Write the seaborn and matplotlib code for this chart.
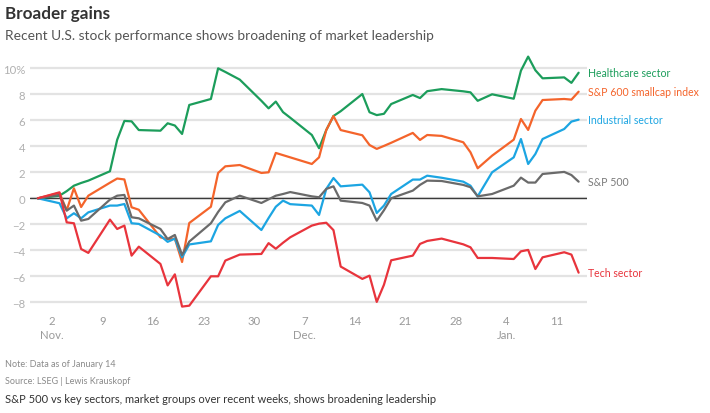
import matplotlib
matplotlib.use("Agg")
import matplotlib.pyplot as plt
import matplotlib.transforms as mtransforms
import seaborn as sns
import pandas as pd

# ---------------- data ----------------
dates = [
    "2025-10-31",
    "2025-11-03", "2025-11-04", "2025-11-05", "2025-11-06", "2025-11-07",
    "2025-11-10", "2025-11-11", "2025-11-12", "2025-11-13", "2025-11-14",
    "2025-11-17", "2025-11-18", "2025-11-19", "2025-11-20", "2025-11-21",
    "2025-11-24", "2025-11-25", "2025-11-26", "2025-11-28",
    "2025-12-01", "2025-12-02", "2025-12-03", "2025-12-04", "2025-12-05",
    "2025-12-08", "2025-12-09", "2025-12-10", "2025-12-11", "2025-12-12",
    "2025-12-15", "2025-12-16", "2025-12-17", "2025-12-18", "2025-12-19",
    "2025-12-22", "2025-12-23", "2025-12-24", "2025-12-26",
    "2025-12-29", "2025-12-30", "2025-12-31",
    "2026-01-02",
    "2026-01-05", "2026-01-06", "2026-01-07", "2026-01-08", "2026-01-09",
    "2026-01-12", "2026-01-13", "2026-01-14",
]

healthcare = [0, 0.2, 0.55, 0.97, 1.18, 1.36, 2.08, 4.5, 5.95, 5.92, 5.25,
              5.2, 5.77, 5.6, 4.95, 7.18, 7.64, 10.0, 9.72, 9.13,
              7.5, 6.92, 7.44, 6.63, 6.2, 4.87, 3.85, 5.25, 6.33, 6.7,
              8.02, 6.62, 6.4, 6.5, 7.25, 7.95, 7.71, 8.24, 8.4,
              8.23, 8.15, 7.5, 8.0, 7.66, 9.82, 10.9, 9.85, 9.23,
              9.3, 8.88, 9.66]

smallcap = [0, 0.41, -0.92, 0.77, -0.67, 0.2, 1.2, 1.52, 1.45, -0.69, -0.88,
            -3.0, -3.15, -3.1, -4.9, -1.9, -0.65, 1.95, 2.46, 2.56,
            1.95, 2.0, 3.49, 3.32, 3.15, 2.64, 3.15, 5.25, 6.33, 5.25,
            4.85, 4.1, 3.8, 4.03, 4.27, 5.03, 4.49, 4.87, 4.8,
            4.31, 3.54, 2.31, 3.28, 4.51, 6.1, 5.26, 6.74, 7.56,
            7.64, 7.59, 8.2]

industrial = [0, -0.38, -1.54, -1.15, -1.54, -1.08, -0.56, -0.56, -0.44, -1.92, -1.97,
              -2.87, -3.35, -3.1, -4.54, -3.55, -3.31, -2.05, -1.54, -0.97,
              -2.44, -1.52, -0.65, -0.18, -0.45, -0.56, -1.28, 0.72, 1.56, 0.92,
              1.05, 0.46, -1.13, -0.56, 0.33, 1.44, 1.44, 1.74, 1.58,
              1.28, 0.97, 0.15, 2.0, 3.15, 4.56, 2.64, 3.41, 4.56,
              5.33, 5.9, 6.05]

sp500 = [0, 0.26, -0.95, -0.56, -1.72, -1.59, -0.1, 0.2, 0.26, -1.46, -1.54,
         -2.36, -3.13, -2.82, -4.36, -3.33, -1.92, -1.05, -0.31, 0.2,
         -0.36, -0.08, 0.2, 0.33, 0.48, 0.15, 0.08, 0.72, 0.92, -0.18,
         -0.36, -0.56, -1.72, -0.92, 0.0, 0.59, 1.03, 1.36, 1.33,
         1.03, 0.85, 0.15, 0.33, 0.97, 1.59, 1.21, 1.21, 1.87,
         2.03, 1.79, 1.28]

tech = [0, 0.46, -1.85, -1.92, -3.9, -4.2, -1.64, -2.36, -2.1, -4.41, -3.72,
        -5.05, -6.7, -5.85, -8.33, -8.26, -6.0, -6.0, -4.79, -4.33,
        -4.28, -3.45, -3.88, -3.42, -3.0, -2.1, -1.95, -1.88, -2.45, -5.25,
        -6.2, -5.95, -7.97, -6.65, -4.77, -4.41, -3.51, -3.28, -3.1,
        -3.54, -3.77, -4.59, -4.59, -4.67, -4.08, -3.97, -5.44, -4.54,
        -4.15, -4.33, -5.72]

series_names = ["Healthcare sector", "S&P 600 smallcap index",
                "Industrial sector", "S&P 500", "Tech sector"]
series_values = [healthcare, smallcap, industrial, sp500, tech]
series_colors = ["#1c9d5b", "#f4642b", "#1ca5e2", "#6a6a6a", "#e8343c"]
label_colors = ["#1c9d5b", "#f4642b", "#1ca5e2", "#7a7a7a", "#e8343c"]

x_tick_dates = ["2025-11-02", "2025-11-09", "2025-11-16", "2025-11-23",
                "2025-11-30", "2025-12-07", "2025-12-14", "2025-12-21",
                "2025-12-28", "2026-01-04", "2026-01-11"]
x_tick_labels = ["2\nNov.", "9", "16", "23", "30", "7\nDec.", "14", "21",
                 "28", "4\nJan.", "11"]
y_ticks = [-8, -6, -4, -2, 0, 2, 4, 6, 8, 10]
y_tick_labels = ["\u22128", "\u22126", "\u22124", "\u22122", "0", "2", "4",
                 "6", "8", "10%"]

# ---------------- frame ----------------
frames = []
for name, vals in zip(series_names, series_values):
    frames.append(pd.DataFrame({"date": pd.to_datetime(dates),
                                "value": vals, "series": name}))
long = pd.concat(frames, ignore_index=True)

sns.set_theme(style="white")
plt.rcParams["font.family"] = ["Lato", "DejaVu Sans"]

W, H = 710, 414
fig = plt.figure(figsize=(W / 100, H / 100), dpi=100)

# axes placement (pixels): left 30, right 587, y from 53.7 to 309.8
ax = fig.add_axes([30 / W, 1 - 309.8 / H, 556.7 / W, 256.1 / H])

sns.lineplot(data=long, x="date", y="value", hue="series",
             hue_order=series_names,
             palette=dict(zip(series_names, series_colors)),
             linewidth=1.6, legend=False, ax=ax, zorder=3)

origin = pd.Timestamp("2025-11-02")
ax.set_xlim(origin - pd.Timedelta(days=3.09), origin + pd.Timedelta(days=74.12))
ax.set_ylim(-8.5, 11.2)

ax.set_yticks(y_ticks)
ax.set_yticklabels(y_tick_labels)
ax.set_xticks(pd.to_datetime(x_tick_dates))
ax.set_xticklabels(x_tick_labels, linespacing=1.35)

ax.yaxis.grid(True, color="#e3e3e3", linewidth=1.6)
ax.xaxis.grid(False)
ax.set_axisbelow(True)
ax.axhline(0, color="#3a3a3a", linewidth=1.0, zorder=2)

for s in ax.spines.values():
    s.set_visible(False)
ax.tick_params(axis="both", length=0)
ax.tick_params(axis="y", pad=3.5, labelsize=8.2, labelcolor="#b0b0b0")
ax.tick_params(axis="x", pad=4.5, labelsize=8.2, labelcolor="#9a9a9a")
ax.set_xlabel("")
ax.set_ylabel("")

# end labels
trans = mtransforms.blended_transform_factory(ax.transAxes, ax.transData)
for name, vals, col in zip(series_names, series_values, label_colors):
    ax.text(1.002, vals[-1], name, transform=trans, color=col,
            fontsize=7.6, va="center", ha="left", clip_on=False)

# titles and notes
fig.text(5 / W, 1 - 14 / H, "Broader gains", fontsize=12.3, fontweight="bold",
         color="#333333", va="center", ha="left")
fig.text(5 / W, 1 - 36 / H,
         "Recent U.S. stock performance shows broadening of market leadership",
         fontsize=9.9, color="#555555", va="center", ha="left")
fig.text(5 / W, 1 - 365 / H, "Note: Data as of January 14", fontsize=6.5,
         color="#8a8a8a", va="center", ha="left")
fig.text(5 / W, 1 - 382 / H, "Source: LSEG | Lewis Krauskopf", fontsize=6.5,
         color="#8a8a8a", va="center", ha="left")
fig.text(5 / W, 1 - 400 / H,
         "S&P 500 vs key sectors, market groups over recent weeks, shows broadening leadership",
         fontsize=8.0, color="#333333", va="center", ha="left")

fig.savefig("out.png", dpi=100)
